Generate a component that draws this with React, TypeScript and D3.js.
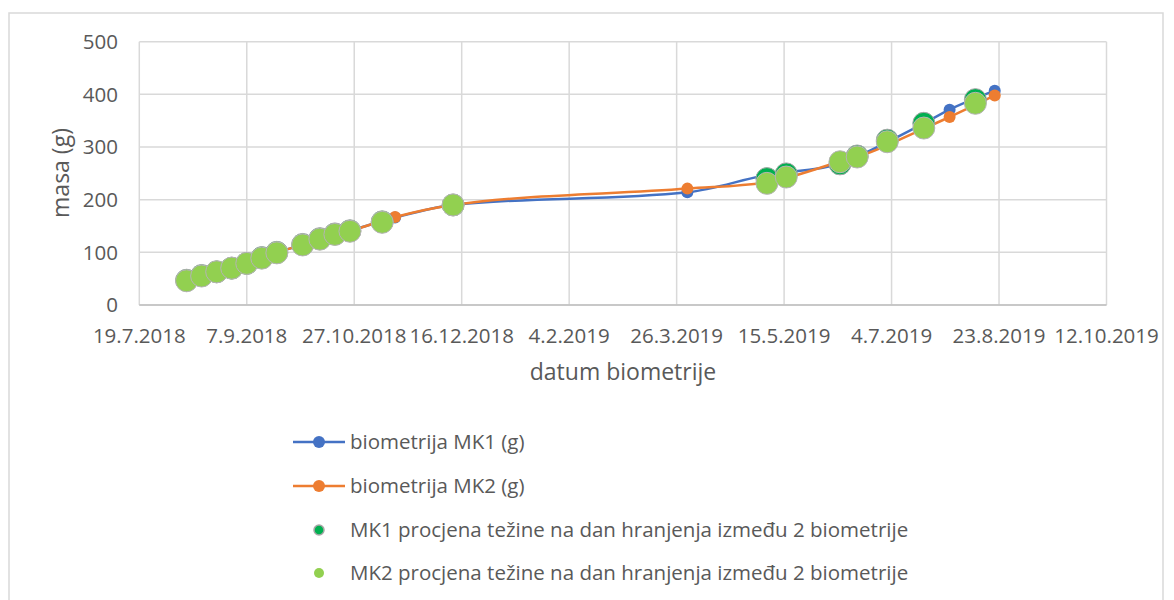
import React from "react";
import * as d3 from "d3";

// ---- data ----
const xTickLabels = ["19.7.2018", "7.9.2018", "27.10.2018", "16.12.2018", "4.2.2019", "26.3.2019", "15.5.2019", "4.7.2019", "23.8.2019", "12.10.2019"];
const yTicks = [0, 100, 200, 300, 400, 500];

const bioDates = ["10.8.2018", "21.9.2018", "25.10.2018", "15.11.2018", "12.12.2018", "31.3.2019", "7.5.2019", "10.6.2019", "18.6.2019", "19.7.2019", "31.7.2019", "21.8.2019"];
const bioMK1 = [47, 100, 141, 166, 190, 214, 247, 268, 282, 345, 371, 407];
const bioMK2 = [46, 100, 140, 167, 190, 221, 233, 272, 281, 335, 357, 398];

const estDates = ["10.8.2018", "17.8.2018", "24.8.2018", "31.8.2018", "7.9.2018", "14.9.2018", "21.9.2018", "3.10.2018", "11.10.2018", "18.10.2018", "25.10.2018", "9.11.2018", "12.12.2018", "7.5.2019", "16.5.2019", "10.6.2019", "18.6.2019", "2.7.2019", "19.7.2019", "12.8.2019"];
const estMK1 = [47, 56, 63, 70, 79, 90, 100, 115, 126, 135, 141, 158, 190, 240, 249, 268, 283, 313, 345, 390];
const estMK2 = [46, 55, 63, 70, 79, 89, 99, 114, 125, 134, 140, 157, 190, 231, 243, 272, 281, 310, 336, 383];

const legendLabels = [
  "biometrija MK1 (g)",
  "biometrija MK2 (g)",
  "MK1 procjena težine na dan hranjenja između 2 biometrije",
  "MK2 procjena težine na dan hranjenja između 2 biometrije",
];

const parse = (s: string) => {
  const [d, m, y] = s.split(".").map(Number);
  return new Date(y, m - 1, d);
};

const FONT = "'Open Sans', sans-serif";
const TXT = "#595959";
const GRID = "#D9D9D9";
const BLUE = "#4472C4";
const ORANGE = "#ED7D31";
const DKGREEN = "#00B050";
const LTGREEN = "#92D050";

export default function App() {
  const tickDates = xTickLabels.map(parse);
  const x = d3.scaleTime().domain([tickDates[0], tickDates[tickDates.length - 1]]).range([139.3, 1106.5]);
  const y = d3.scaleLinear().domain([0, 500]).range([305, 41.7]);

  const line = d3
    .line<[Date, number]>()
    .x((d) => x(d[0]))
    .y((d) => y(d[1]))
    .curve(d3.curveMonotoneX);

  const s1: [Date, number][] = bioDates.map((d, i) => [parse(d), bioMK1[i]]);
  const s2: [Date, number][] = bioDates.map((d, i) => [parse(d), bioMK2[i]]);
  const e1: [Date, number][] = estDates.map((d, i) => [parse(d), estMK1[i]]);
  const e2: [Date, number][] = estDates.map((d, i) => [parse(d), estMK2[i]]);

  const legendY = [442, 486, 530, 573];

  return (
    <svg width={1174} height={600} style={{ position: "absolute", left: 0, top: 0, background: "#fff" }} fontFamily={FONT}>
      <rect x={9} y={13} width={1154} height={620} fill="#fff" stroke={GRID} strokeWidth={1.5} />
      {/* grid */}
      {yTicks.map((t) => (
        <line key={"gy" + t} x1={139.3} x2={1106.5} y1={y(t)} y2={y(t)} stroke={GRID} strokeWidth={1.5} />
      ))}
      {tickDates.map((d, i) => (
        <line key={"gx" + i} x1={x(d)} x2={x(d)} y1={y(500)} y2={y(0)} stroke={GRID} strokeWidth={1.5} />
      ))}
      <line x1={139.3} x2={1106.5} y1={y(0)} y2={y(0)} stroke="#BFBFBF" strokeWidth={1.5} />
      {/* y tick labels */}
      {yTicks.map((t) => (
        <text key={"yl" + t} x={118} y={y(t)} dy="0.35em" textAnchor="end" fontSize={20.5} fill={TXT}>
          {t}
        </text>
      ))}
      {/* x tick labels */}
      {tickDates.map((d, i) => (
        <text key={"xl" + i} x={x(d)} y={336} dy="0.35em" textAnchor="middle" fontSize={20.5} fill={TXT}>
          {xTickLabels[i]}
        </text>
      ))}
      <text x={623} y={372} dy="0.35em" textAnchor="middle" fontSize={23} fill={TXT}>
        datum biometrije
      </text>
      <text transform="translate(61,173) rotate(-90)" dy="0.35em" textAnchor="middle" fontSize={23} fill={TXT}>
        masa (g)
      </text>
      {/* lines */}
      <path d={line(s1) || ""} fill="none" stroke={BLUE} strokeWidth={2.5} />
      {s1.map((d, i) => (
        <circle key={"m1" + i} cx={x(d[0])} cy={y(d[1])} r={6} fill={BLUE} />
      ))}
      <path d={line(s2) || ""} fill="none" stroke={ORANGE} strokeWidth={2.5} />
      {s2.map((d, i) => (
        <circle key={"m2" + i} cx={x(d[0])} cy={y(d[1])} r={6} fill={ORANGE} />
      ))}
      {/* estimates */}
      {e1.map((d, i) => (
        <circle key={"e1" + i} cx={x(d[0])} cy={y(d[1])} r={11} fill={DKGREEN} stroke="#A6A6A6" strokeWidth={1} />
      ))}
      {e2.map((d, i) => (
        <circle key={"e2" + i} cx={x(d[0])} cy={y(d[1])} r={11} fill={LTGREEN} stroke="#B4B4B4" strokeWidth={1} />
      ))}
      {/* legend */}
      <line x1={293} x2={345} y1={legendY[0]} y2={legendY[0]} stroke={BLUE} strokeWidth={2.5} />
      <circle cx={319} cy={legendY[0]} r={6} fill={BLUE} />
      <line x1={293} x2={345} y1={legendY[1]} y2={legendY[1]} stroke={ORANGE} strokeWidth={2.5} />
      <circle cx={319} cy={legendY[1]} r={6} fill={ORANGE} />
      <circle cx={319} cy={legendY[2]} r={5} fill={DKGREEN} stroke="#A6A6A6" strokeWidth={1.5} />
      <circle cx={319} cy={legendY[3]} r={5} fill={LTGREEN} />
      {legendLabels.map((l, i) => (
        <text key={"lg" + i} x={350} y={legendY[i]} dy="0.35em" fontSize={20.5} fill={TXT}>
          {l}
        </text>
      ))}
    </svg>
  );
}
